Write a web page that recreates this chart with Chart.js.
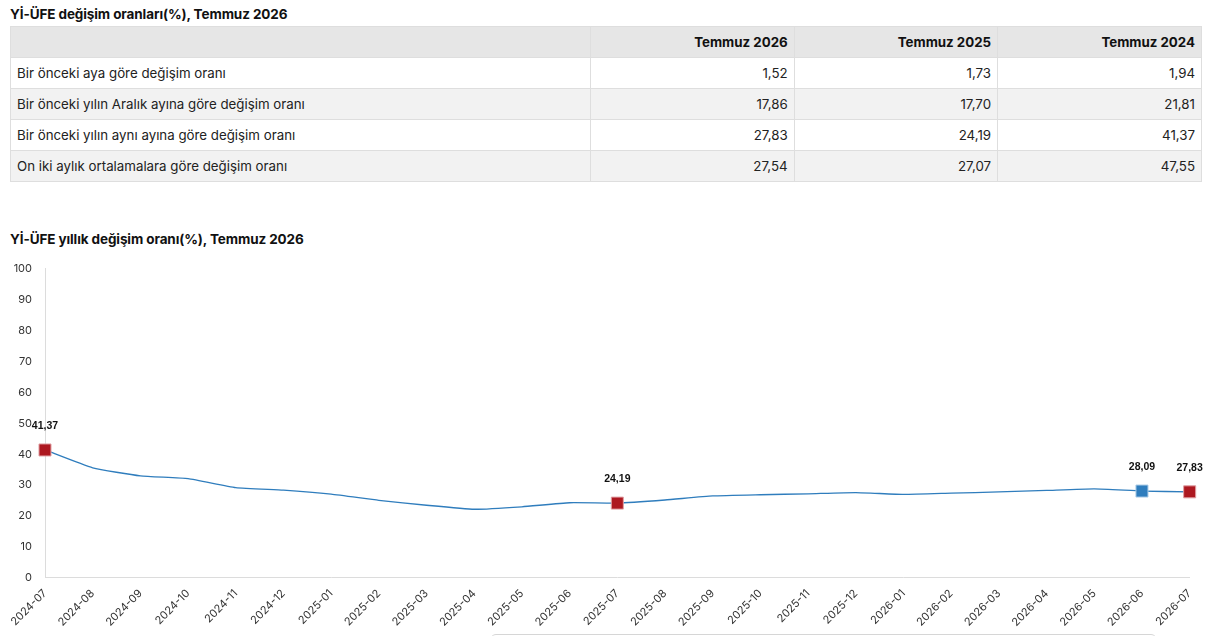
<!DOCTYPE html>
<html lang="tr">
<head>
<meta charset="utf-8">
<script src="https://cdn.jsdelivr.net/npm/chart.js@4.4.1/dist/chart.umd.min.js"></script>
<style>
  html, body { margin: 0; padding: 0; background: #fff; }
  body { width: 1221px; height: 636px; overflow: hidden; position: relative; font-family: Inter, "Noto Sans", sans-serif; color: #111; }
  .title { position: absolute; left: 10px; font-weight: 700; font-size: 13.5px; color: #111; letter-spacing: -0.1px; }
  table { position: absolute; left: 10px; top: 26px; width: 1192px; border-collapse: collapse; font-size: 13.3px; }
  td, th { border: 1px solid #dedede; height: 30px; padding: 0 6px; }
  th { background: #e6e6e6; font-weight: 700; text-align: right; }
  td { text-align: right; color: #222; }
  td.lbl { text-align: left; }
  tbody tr:nth-child(even) td { background: #f2f2f2; }
  #chartBox { position: absolute; left: 0; top: 249px; width: 1208px; height: 389px; }
  .boxBottom { position: absolute; left: 490px; top: 634px; width: 665px; height: 20px; border: 1px solid #d6d6d6; border-radius: 6px; }
</style>
</head>
<body>
<div class="title" style="top:6px">Yİ-ÜFE değişim oranları(%), Temmuz 2026</div>
<table id="tbl"></table>
<div class="title" style="top:231px">Yİ-ÜFE yıllık değişim oranı(%), Temmuz 2026</div>
<div id="chartBox"><canvas id="c"></canvas></div>
<div class="boxBottom"></div>
<script>
// ---- table data ----
const tableHeaders = ['Temmuz 2026', 'Temmuz 2025', 'Temmuz 2024'];
const tableRowLabels = [
  'Bir önceki aya göre değişim oranı',
  'Bir önceki yılın Aralık ayına göre değişim oranı',
  'Bir önceki yılın aynı ayına göre değişim oranı',
  'On iki aylık ortalamalara göre değişim oranı'
];
const col2026 = [1.52, 17.86, 27.83, 27.54];
const col2025 = [1.73, 17.70, 24.19, 27.07];
const col2024 = [1.94, 21.81, 41.37, 47.55];

// ---- chart data ----
const months = ['2024-07','2024-08','2024-09','2024-10','2024-11','2024-12',
  '2025-01','2025-02','2025-03','2025-04','2025-05','2025-06','2025-07',
  '2025-08','2025-09','2025-10','2025-11','2025-12','2026-01','2026-02',
  '2026-03','2026-04','2026-05','2026-06','2026-07'];
const annualChange = [41.37, 35.6, 33.0, 32.1, 29.2, 28.4, 27.1, 25.1, 23.5, 22.2,
  23.0, 24.3, 24.19, 25.2, 26.5, 26.9, 27.2, 27.6, 27.0, 27.4, 27.8, 28.3, 28.8,
  28.09, 27.83];
const sameMonthYears = ['2024-07', '2025-07', '2026-07'];
const previousMonth = ['2026-06'];
const yTicks = [0, 10, 20, 30, 40, 50, 60, 70, 80, 90, 100];

const fmt = v => v.toFixed(2).replace('.', ',');

// build table
(function () {
  const t = document.getElementById('tbl');
  let h = '<thead><tr><th></th>' + tableHeaders.map(x => '<th>' + x + '</th>').join('') + '</tr></thead><tbody>';
  const cols = [col2026, col2025, col2024];
  tableRowLabels.forEach((lab, i) => {
    h += '<tr><td class="lbl">' + lab + '</td>' + cols.map(c => '<td>' + fmt(c[i]) + '</td>').join('') + '</tr>';
  });
  h += '</tbody>';
  t.innerHTML = h;
  const ths = t.querySelectorAll('th');
  ths[0].style.width = '567px';
})();

const RED = '#ad1820', BLUE = '#2f7dbd';
const ptColor = months.map(m => sameMonthYears.includes(m) ? RED : (previousMonth.includes(m) ? BLUE : 'rgba(0,0,0,0)'));
const ptRadius = months.map(m => (sameMonthYears.includes(m) || previousMonth.includes(m)) ? 8.5 : 0);
const ptBorder = months.map(m => sameMonthYears.includes(m) ? '#e0a0a4' : (previousMonth.includes(m) ? '#a9cbe6' : 'rgba(0,0,0,0)'));

const labelPlugin = {
  id: 'pointLabels',
  afterDatasetsDraw(chart) {
    const ctx = chart.ctx;
    const meta = chart.getDatasetMeta(0);
    ctx.save();
    ctx.font = 'bold 10.5px "Liberation Sans", Arial, sans-serif';
    ctx.fillStyle = '#111';
    ctx.textAlign = 'center';
    ctx.textBaseline = 'middle';
    meta.data.forEach((pt, i) => {
      const m = months[i];
      if (sameMonthYears.includes(m) || previousMonth.includes(m)) {
        ctx.fillText(fmt(annualChange[i]), pt.x, pt.y - 24);
      }
    });
    ctx.restore();
  }
};

new Chart(document.getElementById('c'), {
  type: 'line',
  data: {
    labels: months,
    datasets: [{
      data: annualChange,
      borderColor: BLUE,
      borderWidth: 1.3,
      tension: 0.15,
      pointStyle: 'rect',
      pointRadius: ptRadius,
      pointHoverRadius: ptRadius,
      pointBackgroundColor: ptColor,
      pointBorderColor: ptBorder,
      pointBorderWidth: 1,
      fill: false
    }]
  },
  options: {
    responsive: true,
    maintainAspectRatio: false,
    animation: false,
    layout: { padding: { top: 5, right: 0, left: 0, bottom: 0 } },
    plugins: { legend: { display: false }, tooltip: { enabled: false } },
    scales: {
      x: {
        offset: false,
        grid: { display: false, drawTicks: false },
        border: { display: true, color: '#dcdcdc', width: 1 },
        ticks: {
          color: '#333', font: { family: 'Inter, "Noto Sans", sans-serif', size: 11 },
          minRotation: 45, maxRotation: 45, autoSkip: false, padding: 9
        }
      },
      y: {
        min: 0, max: 100,
        afterBuildTicks(scale) { scale.ticks = yTicks.map(v => ({ value: v })); },
        afterFit(scale) { scale.width = 45; },
        grid: { display: false, drawTicks: false },
        border: { display: true, color: '#dcdcdc', width: 1 },
        ticks: {
          color: '#333', font: { family: 'Inter, "Noto Sans", sans-serif', size: 11 },
          padding: 13
        }
      }
    }
  },
  plugins: [labelPlugin]
});
</script>
</body>
</html>
